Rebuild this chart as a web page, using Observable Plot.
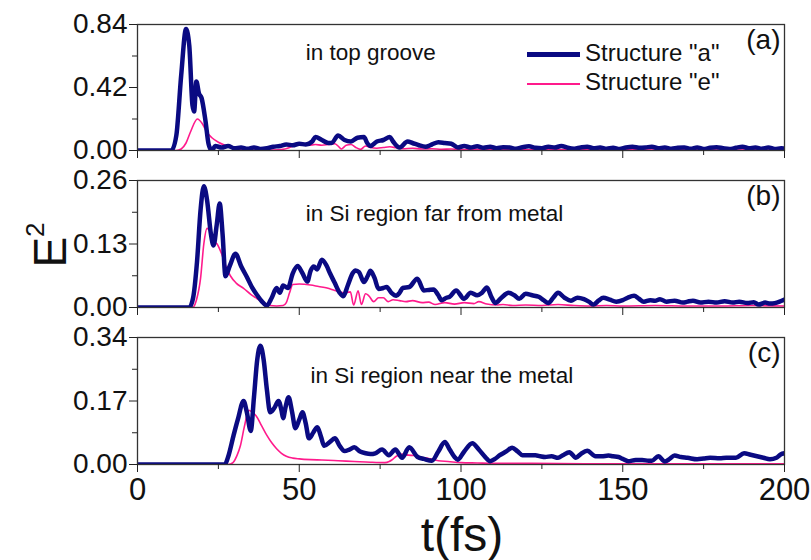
<!DOCTYPE html>
<html><head><meta charset="utf-8">
<script src="https://cdn.jsdelivr.net/npm/d3@7"></script>
<script src="https://cdn.jsdelivr.net/npm/@observablehq/plot@0.6"></script>
<style>
body{margin:0;background:#fff;}
#wrap{position:relative;width:811px;height:560px;overflow:hidden;font-family:"Liberation Sans",Arial,sans-serif;color:#111;}
#wrap svg{position:absolute;left:0;}
.lbl{position:absolute;white-space:nowrap;line-height:1;}
.leg{position:absolute;left:527px;font-size:24px;line-height:1;white-space:nowrap;}
.leg span.sw{display:inline-block;width:53px;vertical-align:middle;margin-right:5px;}
</style></head><body><div id="wrap"></div>
<script>
// ---- data (t in fs, E^2) ----
const topA = [[0,0],[10.5,0],[12,0.1],[13.5,0.5],[15,0.81],[16,0.7],[17,0.3],[17.5,0.26],[18.2,0.46],[19,0.38],[19.8,0.35],[21,0.2],[22,0.04],[23,0.0],[24,0.03],[26,0.02],[28,0.03],[30,0.015],[32,0.02],[34,0.012],[36,0.02],[38,0.01],[40,0.015],[42,0.025],[44,0.03],[46,0.04],[48,0.035],[50,0.045],[52,0.04],[54,0.06],[55,0.09],[57,0.07],[59,0.05],[60,0.05],[62,0.1],[64,0.07],[66,0.06],[68,0.085],[70,0.09],[71,0.05],[72,0.03],[74,0.06],[76,0.07],[78,0.09],[79,0.06],[81,0.02],[83.5,0.06],[85,0.05],[87,0.035],[89,0.025],[91,0.04],[93,0.055],[95,0.05],[97,0.045],[99,0.02],[101,0.03],[103,0.02],[105,0.028],[107,0.018],[109,0.025],[111,0.015],[113,0.022],[115,0.02],[117,0.012],[119,0.022],[121,0.028],[123,0.018],[125,0.015],[127,0.025],[129,0.02],[131,0.03],[133,0.018],[135,0.012],[137,0.02],[139,0.025],[141,0.015],[143,0.02],[145,0.012],[147,0.018],[149,0.01],[151,0.02],[153,0.025],[155,0.018],[157,0.02],[159,0.025],[161,0.015],[163,0.02],[165,0.012],[167,0.018],[169,0.02],[171,0.012],[173,0.02],[175,0.01],[177,0.018],[179,0.022],[181,0.015],[183,0.01],[185,0.018],[187,0.025],[189,0.015],[191,0.02],[193,0.012],[195,0.02],[197,0.01],[199,0.015],[200,0.012]];
const topE = [[0,0],[12,0],[13.5,0.01],[15,0.05],[16.5,0.13],[18.5,0.21],[20,0.18],[21.5,0.12],[23,0.085],[25,0.055],[27,0.035],[29,0.02],[31,0.01],[34,0.004],[38,0.002],[42,0.003],[45,0.008],[47,0.02],[49,0.035],[51,0.04],[53,0.035],[55,0.04],[57,0.035],[59,0.04],[61,0.045],[62,0.03],[63,0.01],[64.5,0.035],[66,0.04],[67.5,0.02],[69,0.008],[70.5,0.03],[72,0.02],[74,0.015],[76,0.02],[78,0.025],[80,0.018],[82,0.012],[85,0.015],[88,0.01],[91,0.012],[94,0.008],[97,0.01],[100,0.006],[105,0.008],[110,0.005],[115,0.007],[120,0.004],[130,0.006],[140,0.004],[150,0.005],[160,0.003],[170,0.005],[180,0.003],[190,0.004],[200,0.003]];
const farA = [[0,0],[16,0],[17.2,0.02],[18.4,0.094],[19.5,0.2],[20.5,0.248],[21.5,0.22],[22.7,0.15],[23.5,0.127],[24.5,0.17],[25.4,0.213],[26.3,0.15],[27.2,0.064],[28.5,0.085],[30.3,0.11],[32,0.085],[34,0.06],[35.5,0.04],[37,0.025],[38.5,0.012],[40,0.004],[41.5,0.02],[43,0.04],[44,0.03],[45,0.045],[46.5,0.04],[48,0.07],[49.5,0.085],[51,0.07],[52.5,0.053],[53.5,0.075],[54.5,0.084],[55.5,0.078],[57,0.098],[58.5,0.085],[59.5,0.07],[61,0.05],[62.5,0.03],[63.6,0.023],[65,0.045],[66.5,0.07],[67.4,0.076],[68.5,0.072],[70,0.052],[71.2,0.065],[72,0.075],[73.3,0.06],[74.5,0.038],[76,0.04],[77,0.042],[78.5,0.03],[80,0.024],[81,0.03],[82,0.04],[84,0.042],[86.5,0.059],[88.5,0.035],[90,0.036],[91.5,0.037],[93,0.025],[94,0.015],[95.5,0.02],[96.5,0.022],[98.5,0.035],[100.9,0.018],[103,0.03],[105,0.025],[106.5,0.03],[108,0.041],[109.5,0.02],[110.6,0.009],[112.5,0.02],[114.7,0.03],[116.5,0.025],[118,0.018],[120,0.028],[122,0.025],[124,0.022],[125.5,0.015],[127,0.009],[128.5,0.02],[130,0.03],[132,0.02],[134,0.014],[136,0.02],[138,0.017],[139.5,0.012],[141,0.006],[142.5,0.014],[144,0.02],[146,0.016],[148,0.012],[150,0.015],[151.5,0.02],[153.5,0.024],[155,0.018],[156.5,0.012],[158.5,0.015],[160,0.014],[161.5,0.017],[163.5,0.012],[166,0.014],[168.6,0.01],[170,0.012],[171.7,0.014],[174,0.01],[176.5,0.012],[179,0.01],[181.5,0.013],[184,0.01],[186,0.012],[188.5,0.009],[190.5,0.011],[192,0.006],[194,0.01],[195.5,0.008],[197,0.009],[198.5,0.012],[200,0.016]];
const farE = [[0,0],[17,0],[18.2,0.015],[19.5,0.06],[20.5,0.13],[21.5,0.162],[22.5,0.155],[23.5,0.138],[24.6,0.13],[26,0.11],[27.3,0.085],[28.7,0.065],[30.5,0.05],[32.8,0.039],[35,0.027],[37,0.018],[39,0.01],[41,0.004],[43,0.003],[45,0.004],[46,0.01],[47,0.03],[48,0.047],[50,0.048],[53.5,0.046],[56,0.043],[58.6,0.04],[61,0.035],[63.7,0.03],[65.8,0.032],[66.8,0.005],[68.2,0.034],[69.2,0.006],[70.5,0.028],[71.5,0.024],[73,0.012],[74.5,0.02],[76,0.02],[77.5,0.012],[79,0.016],[81,0.014],[83,0.012],[85,0.014],[88,0.01],[90,0.011],[92,0.006],[95,0.01],[98,0.007],[101,0.01],[104,0.008],[105.5,0.012],[108,0.007],[111,0.005],[113,0.006],[116,0.004],[120,0.005],[125,0.004],[130,0.006],[135,0.004],[140,0.003],[145,0.004],[150,0.003],[160,0.004],[170,0.003],[180,0.003],[190,0.004],[200,0.003]];
const nearA = [[0,0],[27,0],[28,0.02],[29.7,0.078],[31,0.12],[32.8,0.17],[33.8,0.14],[35,0.09],[36,0.18],[37,0.28],[38,0.318],[39,0.28],[40,0.2],[41,0.14],[42.2,0.15],[43.6,0.17],[44.5,0.145],[45,0.124],[45.8,0.155],[46.7,0.18],[47.8,0.14],[48.8,0.097],[50,0.12],[51,0.14],[52,0.11],[53,0.07],[54.3,0.085],[55.6,0.1],[56.7,0.075],[57.7,0.05],[59.4,0.06],[61,0.07],[62.5,0.05],[64,0.036],[65.5,0.04],[67,0.046],[68.8,0.035],[70.5,0.03],[72,0.028],[73.5,0.03],[75.6,0.04],[77.7,0.025],[79.7,0.04],[81.8,0.018],[84,0.046],[86.6,0.02],[88.5,0.015],[91,0.01],[93,0.035],[95,0.06],[96.5,0.04],[98,0.02],[99,0.013],[101,0.035],[103.5,0.057],[105.5,0.04],[107.5,0.02],[109,0.009],[110.5,0.015],[112,0.025],[114,0.035],[115.8,0.045],[117.5,0.035],[119,0.025],[121,0.025],[123,0.025],[124.5,0.022],[126,0.02],[128,0.022],[130,0.018],[131.5,0.025],[133.5,0.033],[135.5,0.018],[137,0.028],[139,0.037],[141.6,0.022],[143.5,0.022],[145.6,0.024],[147,0.022],[148.7,0.02],[150,0.015],[151.7,0.009],[154,0.012],[156,0.012],[158,0.01],[159,0.01],[161,0.022],[163,0.008],[164.5,0.015],[166,0.024],[168,0.02],[170,0.018],[173,0.014],[175,0.016],[177,0.018],[180,0.017],[182,0.018],[185,0.018],[187.5,0.03],[189.5,0.026],[191.5,0.022],[193.5,0.018],[195.5,0.014],[197.5,0.018],[198.8,0.027],[200,0.03]];
const nearE = [[0,0],[28,0],[29.5,0.005],[30.8,0.025],[31.8,0.05],[33,0.1],[34.4,0.145],[35.5,0.14],[36.7,0.13],[38.3,0.105],[40,0.078],[41.5,0.058],[43,0.042],[44.5,0.03],[46,0.022],[48,0.017],[50,0.015],[53.5,0.013],[57,0.012],[62,0.01],[67,0.008],[72,0.006],[76.5,0.005],[77.8,0.008],[78.6,0.012],[80,0.022],[80.7,0.025],[82.2,0.028],[83.7,0.025],[85.5,0.024],[87,0.02],[89,0.018],[90.5,0.015],[93,0.01],[96,0.008],[100,0.005],[105,0.004],[110,0.003],[120,0.003],[140,0.002],[160,0.002],[180,0.002],[200,0.002]];

const xMajor = [0, 50, 100, 150, 200];
const xMinor = [25, 75, 125, 175];
const panelTags = ["(a)", "(b)", "(c)"];
const panelNotes = ["in top groove", "in Si region far from metal", "in Si region near the metal"];
const noteAt = [[52, 0.65], [52, 0.192], [53.5, 0.238]];
const yMax = [0.84, 0.26, 0.34];
const seriesNames = ['Structure "a"', 'Structure "e"'];
const colors = ["#0a0a82", "#ff1a8c"];

const panels = [[topA, topE], [farA, farE], [nearA, nearE]];
const tops = [0, 157, 314];
const heights = [162, 162, 246];
const mTop = [24, 23, 23];
const mBottom = [12, 12, 96];
const FONT = '"Liberation Sans", Arial, sans-serif';

const wrap = document.getElementById("wrap");

panels.forEach(([A, E], i) => {
  const ym = yMax[i];
  const yMaj = [0, ym / 2, ym];
  const yMin = [ym / 4, 3 * ym / 4];
  const last = i === 2;
  const svg = Plot.plot({
    width: 811, height: heights[i],
    marginLeft: 137, marginRight: 27, marginTop: mTop[i], marginBottom: mBottom[i],
    style: {fontFamily: FONT, color: "#111", background: "transparent", overflow: "visible"},
    x: {domain: [0, 200], axis: null},
    y: {domain: [0, ym], axis: null},
    marks: [
      Plot.line(E, {x: d => d[0], y: d => d[1], stroke: colors[1], strokeWidth: 1.6, curve: "monotone-x", clip: true}),
      Plot.line(A, {x: d => d[0], y: d => d[1], stroke: colors[0], strokeWidth: 4.5, curve: "monotone-x", strokeLinejoin: "round", clip: true}),
      Plot.frame({stroke: "#333", strokeWidth: 1.3}),
      Plot.axisY({ticks: yMaj, tickSize: 8, tickPadding: 2, tickFormat: d3.format(".2f"), fontSize: 28, label: null, stroke: "#222"}),
      Plot.axisY({ticks: yMin, tickSize: 5, tickFormat: () => "", label: null, stroke: "#222"}),
      Plot.axisX({ticks: xMajor, tickSize: 8, tickPadding: 5, tickFormat: last ? (d => String(d)) : (() => ""), fontSize: 31, label: null, stroke: "#222"}),
      Plot.axisX({ticks: xMinor, tickSize: 5, tickFormat: () => "", label: null, stroke: "#222"}),
      Plot.text([panelTags[i]], {frameAnchor: "top-right", dx: -4, dy: 5, fontSize: 28, fill: "#111"}),
      Plot.text([panelNotes[i]], {x: () => noteAt[i][0], y: () => noteAt[i][1], textAnchor: "start", fontSize: 22.5, fill: "#111"})
    ]
  });
  svg.style.top = tops[i] + "px";
  wrap.appendChild(svg);
});

// legend
seriesNames.forEach((name, k) => {
  const d = document.createElement("div");
  d.className = "leg";
  d.style.top = (41 + k * 29) + "px";
  d.innerHTML = `<span class="sw" style="height:${k ? 2 : 5}px;background:${colors[k]}"></span>${name}`;
  wrap.appendChild(d);
});

// axis titles
const yl = document.createElement("div");
yl.className = "lbl";
yl.style.cssText += "left:47px;top:245px;font-size:46px;transform:translate(-50%,-50%) rotate(-90deg);";
yl.innerHTML = "E<sup style='font-size:26px;vertical-align:22px'>2</sup>";
wrap.appendChild(yl);

const xl = document.createElement("div");
xl.className = "lbl";
xl.style.cssText += "left:462px;top:535px;font-size:48px;transform:translate(-50%,-50%);";
xl.textContent = "t(fs)";
wrap.appendChild(xl);
</script></body></html>
